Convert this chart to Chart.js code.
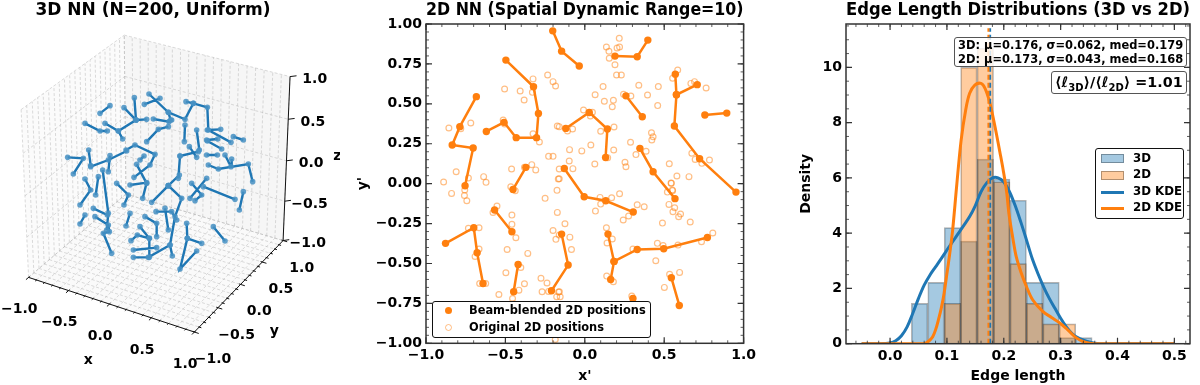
<!DOCTYPE html>
<html>
<head>
<meta charset="utf-8">
<script src="https://cdn.jsdelivr.net/npm/chart.js@4"></script>
<style>
body { margin: 0; background: #fff; font-family: "DejaVu Sans", sans-serif; font-weight: bold; color: #000; }
#page { position: relative; width: 1200px; height: 385px; overflow: hidden; }
canvas { position: absolute; top: 0; }
.box { position: absolute; box-sizing: border-box; background: rgba(255,255,255,.8); border: 1px solid #555; border-radius: 3px; white-space: nowrap; }
.legend { background: rgba(255,255,255,.95); border: 1px solid #111; }
.row { position: absolute; transform: translateY(-50%); line-height: 1; }
.sw { position: absolute; box-sizing: border-box; }
sub { font-size: 10px; line-height: 0; }
</style>
</head>
<body>
<div id="page">
  <canvas id="c3d" width="340" height="385" style="left:0"></canvas>
  <canvas id="c2d" width="405" height="385" style="left:355px"></canvas>
  <canvas id="chist" width="402" height="385" style="left:798px"></canvas>

  <div class="box legend" style="left:432px;top:301px;width:219px;height:37px;font-size:11.4px">
    <div class="sw" style="left:12px;top:5px;width:7px;height:7px;border-radius:50%;background:#ff7f0e"></div>
    <div class="row" style="left:36px;top:9px">Beam-blended 2D positions</div>
    <div class="sw" style="left:12px;top:22px;width:7px;height:7px;border-radius:50%;border:1.2px solid rgba(255,127,14,.5)"></div>
    <div class="row" style="left:36px;top:26px">Original 2D positions</div>
  </div>

  <div class="box" style="left:954px;top:37px;width:233px;height:30px;font-size:11.45px;line-height:13.5px;padding:1px 0 0 3px">
    3D: μ=0.176, σ=0.062, med=0.179<br>2D: μ=0.173, σ=0.043, med=0.168
  </div>
  <div class="box" style="left:1051px;top:71px;width:136px;height:23px;font-size:14.3px;line-height:21px;padding-left:3px">
    ⟨ℓ<sub>3D</sub>⟩/⟨ℓ<sub>2D</sub>⟩ =1.01
  </div>
  <div class="box legend" style="left:1095px;top:148px;width:89px;height:71px;font-size:11.8px">
    <div class="sw" style="left:5px;top:5px;width:23px;height:9px;background:rgba(31,119,180,.4);border:1px solid rgba(0,0,0,.3)"></div>
    <div class="row" style="left:37px;top:10px">3D</div>
    <div class="sw" style="left:5px;top:22px;width:23px;height:9px;background:rgba(255,127,14,.4);border:1px solid rgba(0,0,0,.3)"></div>
    <div class="row" style="left:37px;top:26px">2D</div>
    <div class="sw" style="left:5px;top:42px;width:23px;height:3px;background:#1f77b4"></div>
    <div class="row" style="left:37px;top:43px">3D KDE</div>
    <div class="sw" style="left:5px;top:58px;width:23px;height:3px;background:#ff7f0e"></div>
    <div class="row" style="left:37px;top:59px">2D KDE</div>
  </div>
</div>

<script>
const BLUE = '#1f77b4';
const ORANGE = '#ff7f0e';
const FONT = '"DejaVu Sans", sans-serif';

// 3D panel: edges, in projected view units (3 units = 1 screen px)
const edges3d = [
  [[300,340],[330,317]],
  [[372,323],[408,360],[403,293]],
  [[408,360],[440,358]],
  [[408,360],[355,393],[315,370]],
  [[355,393],[368,417]],
  [[255,370],[300,393],[322,393]],
  [[447,282],[505,337],[555,358],[580,310],[558,305]],
  [[433,313],[480,295]],
  [[460,357],[507,365],[515,360]],
  [[505,337],[512,360]],
  [[440,425],[475,388],[505,380]],
  [[580,310],[622,322],[625,390],[693,427]],
  [[622,390],[662,388]],
  [[555,375],[553,425]],
  [[590,390],[598,450]],
  [[700,410],[730,420]],
  [[620,420],[653,417]],
  [[622,423],[665,447]],
  [[620,465],[652,465]],
  [[540,468],[595,455]],
  [[540,468],[535,535]],
  [[568,440],[590,472]],
  [[625,495],[655,507],[745,492],[758,545]],
  [[675,465],[693,500],[695,477]],
  [[203,472],[250,475],[220,522]],
  [[266,450],[272,497]],
  [[330,467],[325,515]],
  [[378,450],[405,435],[465,463],[450,495],[402,532]],
  [[410,493],[440,550]],
  [[432,468],[420,480]],
  [[380,453],[325,480],[272,500]],
  [[255,537],[272,570],[240,615]],
  [[295,530],[287,585]],
  [[308,510],[325,640],[320,690]],
  [[350,550],[385,585],[372,615]],
  [[390,555],[440,548],[428,595]],
  [[505,557],[455,607]],
  [[505,557],[538,525]],
  [[505,557],[545,595],[525,650],[510,735],[445,772],[400,772]],
  [[400,750],[470,743]],
  [[575,550],[605,585],[585,602]],
  [[620,535],[570,595]],
  [[610,560],[705,598]],
  [[730,575],[718,630]],
  [[255,645],[240,672]],
  [[280,625],[322,645]],
  [[285,650],[325,675],[328,695],[310,700],[335,760]],
  [[390,640],[378,678]],
  [[435,650],[470,670],[470,710]],
  [[468,635],[515,635],[530,660]],
  [[495,625],[505,690]],
  [[560,670],[562,715],[540,807],[590,753]],
  [[562,715],[605,730]],
  [[640,680],[675,723]],
  [[420,680],[448,715],[448,772]],
  [[393,722],[412,705],[448,715]],
  [[510,735],[517,768]]
];
const ticks3d = [-1, -0.5, 0, 0.5, 1];

// 2D panel
const edges2d = [
  [[-.683,.545],[-.787,.357],[-.835,.242],[-.703,.223],[-.754,-.013]],
  [[-.62,.327],[-.509,.384],[-.432,.288],[-.304,.288],[-.292,.44],[-.323,.607],[-.497,.774]],
  [[-.371,.102],[-.452,-.036]],
  [[-.568,-.165],[-.459,-.301]],
  [[-.877,-.374],[-.699,-.276],[-.678,-.433],[-.641,-.625]],
  [[-.42,-.506],[-.448,-.677]],
  [[-.202,.957],[-.146,.83],[-.035,.737]],
  [[.19,.799],[.33,.795],[.397,.899]],
  [[.259,.55],[.362,.419]],
  [[-.12,.346],[.028,.446],[.142,.342],[.131,.164]],
  [[.57,.686],[.577,.557],[.708,.62]],
  [[.577,.557],[.564,.361],[.723,.156],[.952,-.053]],
  [[.756,.43],[.894,.442]],
  [[.347,.221],[.43,.075],[.568,-.094]],
  [[-.129,.095],[-.004,-.082],[.132,-.107],[.305,-.178]],
  [[.146,-.316],[.184,-.487],[.163,-.6]],
  [[.184,-.487],[.33,-.412],[.497,-.408],[.772,-.337]],
  [[.545,-.589],[.595,-.763]],
  [[-.146,-.316],[-.105,-.51],[-.21,-.671]],
  [[.303,-.719]]
];
const original2d = [
  [-.856,.349],[-.781,.344],[-.718,.38],[-.81,.075],[-.733,.035],[-.889,.01],[-.637,.044],[-.622,.008],
  [-.756,-.04],[-.758,-.074],[-.743,-.107],[-.514,.399],[-.505,.374],[-.326,.313],[-.286,.261],[-.505,.593],
  [-.407,.58],[-.382,.524],[-.33,.572],[-.326,.656],[-.234,.681],[-.2,.639],[-.184,.612],[-.173,.361],
  [-.228,.171],[-.2,.171],[-.461,.092],[-.38,.102],[-.334,.119],[-.309,.086],[-.161,.092],[-.167,.029],
  [-.466,-.019],[-.438,-.044],
  [.217,.91],[.136,.856],[.203,.85],[.219,.856],[.152,.829],[.154,.785],[.19,.745],[.2,.681],[.23,.681],
  [.115,.608],[.065,.557],[.123,.516],[.18,.522],[.173,.482],[.244,.56],[.29,.549],[.34,.616],[.395,.555],
  [.463,.608],[.459,.489],[.585,.712],[.553,.66],[.668,.628],[.691,.639],[.764,.599],[-.008,.461],[.048,.447],
  [.035,.424],[-.161,.357],[-.109,.33],[-.077,.342],[.1,.328],[.184,.355],[.42,.319],[.43,.294],[.422,.273],
  [.288,.259],[.386,.203],[.322,.182],[.144,.163],[-.096,.213],[-.019,.205],[.038,.242],[.182,.211],[.674,.19],
  [.695,.152],[.737,.127],[.785,.148],[.532,.125],[.58,.048],[.656,.044],[.543,.004],[.551,-.04],[.253,.134],
  [.259,.106],[.063,.123],[-.098,.142],[-.075,.094],[-.161,.031],
  [.545,.002],[.52,-.053],[.553,-.044],[.096,-.086],[.169,-.088],[.219,-.063],[.1,-.128],[.067,-.172],[.33,-.132],
  [.374,-.145],[.53,-.13],[.566,-.151],[.555,-.176],[.603,-.19],[.591,-.207],[.242,-.228],[.276,-.203],[.489,-.247],
  [.664,-.24],[-.125,-.251],[.136,-.276],[-.094,-.335],[-.084,-.412],[.14,-.372],[.173,-.347],[.806,-.309],[.735,-.364],
  [.457,-.374],[.493,-.387],[.587,-.385],[.303,-.41],[.447,-.483],[.138,-.579],[.18,-.614],[.534,-.568],[.597,-.556],
  [.501,-.65],[.296,-.704],[-.155,-.708],[-.16,-.677],
  [-.839,-.061],[-.553,-.14],[-.578,-.18],[-.459,-.197],[-.459,-.255],[-.434,-.339],[-.733,-.28],[-.666,-.276],
  [-.666,-.41],[-.691,-.456],[-.662,-.625],[-.624,-.625],[-.489,-.412],[-.359,-.437],[-.403,-.525],[-.497,-.558],
  [-.38,-.627],[-.415,-.667],[-.541,-.694],[-.455,-.719],[-.451,-.754],[-.276,-.593],[-.238,-.622],[-.269,-.677],
  [-.228,-.675],[-.165,-.679],[-.177,-.708],[-.2,-.293],[-.182,-.349],[-.161,-.322],[-.173,-.18],[-.25,-.092],
  [-.175,-.042],[-.186,-.976]
];
const ticks2dX = [-1, -0.5, 0, 0.5, 1];
const ticks2dY = [-1, -0.75, -0.5, -0.25, 0, 0.25, 0.5, 0.75, 1];

// histogram panel
const binCenters = [.0519,.0808,.1097,.1386,.1675,.1964,.2253,.2542,.2831,.312,.3409];
const hist3d = [1.46,2.22,4.2,3.71,6.68,5.96,5.19,2.22,2.22,.22,.22];
const hist2d = [0,0,1.46,10,10.69,5.86,2.9,1.46,.72,.72,0];
const kde3dX = [-.05,-.02,0,.01,.02,.03,.04,.05,.06,.07,.08,.09,.1,.11,.12,.13,.14,.15,.16,.17,.18,.19,.2,.21,.22,.23,.24,.25,.26,.27,.28,.29,.3,.31,.32,.33,.34,.35,.36,.38,.5];
const kde3dY = [0,0,.03,.11,.29,.61,1.1,1.64,2.12,2.48,2.78,3.08,3.39,3.69,3.99,4.29,4.6,5,5.5,5.82,6,6,5.85,5.5,5,4.4,3.75,3.08,2.54,2.06,1.64,1.28,.92,.61,.37,.22,.13,.06,.02,0,0];
const kde2dX = [-.05,.06,.065,.07,.075,.08,.085,.09,.095,.1,.105,.11,.117,.125,.133,.14,.149,.16,.167,.175,.181,.187,.193,.199,.205,.209,.216,.222,.231,.24,.251,.269,.284,.298,.31,.319,.327,.339,.351,.37,.5];
const kde2dY = [0,0,.05,.13,.25,.5,.86,1.28,1.82,2.54,3.27,4.1,5.68,7.37,8.46,9.06,9.36,9.42,9.24,8.76,8.21,7.6,6.95,6.28,5.5,4.71,3.81,3.14,2.54,2.06,1.58,1.16,.95,.76,.55,.37,.22,.08,.02,0,0];
const mean3d = .176, mean2d = .173, meanTop = 11.42;
const histTicksX = [0, .1, .2, .3, .4, .5];
const histTicksY = [0, 2, 4, 6, 8, 10];

const label = (v, d) => v.toFixed(d).replace('-', '\u2212');
const range = (a, b, n) => { let o = []; for (let i = 0; i <= n; i++) o.push(a + (b - a) * i / n); return o; };
const GAP = { x: NaN, y: NaN };

// mplot3d style projection, azim -60, elev 30, dist 10
function proj(x, y, z) {
  let a = .55, r = (.866 * x + .5 * y) * a, u = (-.25 * x + .433 * y + .866 * z) * a, d = (.433 * x - .75 * y + .5 * z) * a;
  let f = 10 / (10 - d);
  return { x: 474 + 522 * r * f, y: 534 - 522 * u * f };
}
function seg(list, p, q) { list.push(proj(...p), proj(...q), GAP); }
function flat(polys) {
  let o = [];
  polys.forEach(l => { l.forEach(p => o.push({ x: p[0], y: p[1] })); o.push(GAP); });
  return o;
}

let grid3d = [], axes3d = [];
range(-1, 1, 20).forEach(v => {
  seg(grid3d, [v, -1, -1], [v, 1, -1]);
  seg(grid3d, [v, 1, -1], [v, 1, 1]);
  seg(grid3d, [-1, v, -1], [1, v, -1]);
  seg(grid3d, [-1, v, -1], [-1, v, 1]);
});
ticks3d.forEach(v => {
  seg(grid3d, [-1, -1, v], [-1, 1, v]);
  seg(grid3d, [-1, 1, v], [1, 1, v]);
});
seg(axes3d, [-1, -1, -1], [1, -1, -1]);
seg(axes3d, [1, -1, -1], [1, 1, -1]);
seg(axes3d, [1, 1, -1], [1, 1, 1]);
range(-1, 1, 20).forEach((v, i) => {
  let t = i % 5 == 0 ? .05 : .025;
  seg(axes3d, [v, -1 - t, -1], [v, -1 + t * .4, -1]);
  seg(axes3d, [1 + t, v, -1], [1 - t * .4, v, -1]);
});
ticks3d.forEach(v => seg(axes3d, [1, 1, v], [1.05, 1.05, v]));

const pane = (color, corners) => ({
  data: corners.map(c => proj(...c)), showLine: true, fill: 'shape', backgroundColor: color,
  borderWidth: 0, pointRadius: 0, clip: false
});

const text3d = {
  id: 'text3d',
  afterDatasetsDraw(chart) {
    let c = chart.ctx, sx = chart.scales.x, sy = chart.scales.y;
    let put = (s, x, y) => c.fillText(s, sx.getPixelForValue(x), sy.getPixelForValue(y));
    c.save();
    c.fillStyle = '#000';
    c.textAlign = 'center';
    c.textBaseline = 'middle';
    c.font = 'bold 14px ' + FONT;
    ticks3d.forEach(v => {
      let p = proj(v, -1, -1); put(label(v, 1), p.x - 28, p.y + 96);
      p = proj(1, v, -1); put(label(v, 1), p.x + 56, p.y + 82);
      p = proj(1, 1, v); put(label(v, 1), p.x + 74, p.y + 8);
    });
    put('x', 265, 1080);
    put('y', 823, 995);
    put('z', 1012, 468);
    c.restore();
  }
};

// inward major and minor ticks on all four sides, plus the frame
function frame(minorX, minorY) {
  return {
    id: 'frame',
    afterDatasetsDraw(chart) {
      let c = chart.ctx, a = chart.chartArea, sx = chart.scales.x, sy = chart.scales.y;
      c.save();
      c.strokeStyle = '#333';
      let tick = (len, w, xs, ys) => {
        c.lineWidth = w;
        c.beginPath();
        xs.forEach(v => {
          let p = sx.getPixelForValue(v);
          c.moveTo(p, a.bottom); c.lineTo(p, a.bottom - len);
          c.moveTo(p, a.top); c.lineTo(p, a.top + len);
        });
        ys.forEach(v => {
          let p = sy.getPixelForValue(v);
          c.moveTo(a.left, p); c.lineTo(a.left + len, p);
          c.moveTo(a.right, p); c.lineTo(a.right - len, p);
        });
        c.stroke();
      };
      tick(3, .8, minorX, minorY);
      tick(6, 1.2, sx.ticks.map(t => t.value), sy.ticks.map(t => t.value));
      c.lineWidth = 1.5;
      c.strokeRect(a.left, a.top, a.right - a.left, a.bottom - a.top);
      c.restore();
    }
  };
}

function axis(min, max, tickList, digits, title, size) {
  let o = {
    type: 'linear', min: min, max: max, offset: false,
    grid: { display: false, drawTicks: false, offset: false }, border: { display: false },
    afterBuildTicks: s => { s.ticks = tickList.map(v => ({ value: v })); },
    afterFit: s => { if (s.isHorizontal()) s.height = size; else s.width = size; },
    ticks: {
      autoSkip: false, maxRotation: 0, padding: 4, color: '#000',
      font: { family: FONT, size: 14, weight: 'bold' },
      callback: v => label(v, digits)
    },
    title: { display: true, text: title, color: '#000', padding: 0, font: { family: FONT, size: 14, weight: 'bold' } }
  };
  return o;
}
const titleOpts = s => ({
  display: true, text: s, color: '#000', fullSize: false,
  font: { family: FONT, size: 17, weight: 'bold' }, padding: { top: 0, bottom: 3.6 }
});
const base = {
  responsive: false, animation: false, events: [],
  layout: { autoPadding: false }
};

new Chart(document.getElementById('c3d'), {
  type: 'scatter',
  plugins: [text3d],
  data: {
    datasets: [
      { data: flat(edges3d), showLine: true, spanGaps: false, borderColor: BLUE, borderWidth: 2.4, pointRadius: 2.8, pointBorderWidth: 0, pointBackgroundColor: 'rgba(70,145,195,.85)', clip: false },
      { data: axes3d, showLine: true, spanGaps: false, borderColor: '#111', borderWidth: 1, pointRadius: 0, clip: false },
      { data: grid3d, showLine: true, spanGaps: false, borderColor: 'rgba(180,180,180,.6)', borderWidth: .8, borderDash: [3, 2], pointRadius: 0, clip: false },
      pane('rgba(246,246,246,.6)', [[-1,-1,-1],[1,-1,-1],[1,1,-1],[-1,1,-1]]),
      pane('rgba(242,242,242,.7)', [[-1,1,-1],[1,1,-1],[1,1,1],[-1,1,1]]),
      pane('rgba(248,248,248,.6)', [[-1,-1,-1],[-1,1,-1],[-1,1,1],[-1,-1,1]])
    ]
  },
  options: {
    ...base,
    layout: { autoPadding: false, padding: { right: 34 } },
    plugins: { legend: { display: false }, title: titleOpts('3D NN (N=200, Uniform)'), tooltip: { enabled: false } },
    scales: {
      x: { type: 'linear', display: false, min: 0, max: 918 },
      y: { type: 'linear', display: false, min: 72, max: 1155, reverse: true }
    }
  }
});

new Chart(document.getElementById('c2d'), {
  type: 'scatter',
  plugins: [frame(range(-1, 1, 20), range(-1, 1, 40))],
  data: {
    datasets: [
      { label: 'Beam-blended 2D positions', data: flat(edges2d), showLine: true, spanGaps: false, borderColor: ORANGE, borderWidth: 2.5, pointRadius: 3.7, pointBorderWidth: 0, pointBackgroundColor: ORANGE },
      { label: 'Original 2D positions', data: original2d.map(p => ({ x: p[0], y: p[1] })), pointRadius: 2.9, pointBorderWidth: 1.2, pointBackgroundColor: 'rgba(0,0,0,0)', pointBorderColor: 'rgba(255,127,14,.5)' }
    ]
  },
  options: {
    ...base,
    layout: { autoPadding: false, padding: { right: 14.7 } },
    plugins: { legend: { display: false }, title: titleOpts('2D NN (Spatial Dynamic Range=10)'), tooltip: { enabled: false } },
    scales: {
      x: axis(-1, 1, ticks2dX, 1, "x'", 41.7),
      y: axis(-1, 1, ticks2dY, 2, "y'", 71)
    }
  }
});

const pairs = (xs, ys) => xs.map((x, i) => ({ x: x, y: ys[i] }));
const vline = v => [{ x: v, y: 0 }, { x: v, y: meanTop }];
const lineDs = (data, color, order, dash) => ({
  type: 'line', data: data, borderColor: color, borderWidth: dash ? 2 : 3, borderDash: dash || [],
  pointRadius: 0, tension: dash ? 0 : .35, order: order, fill: false
});
const barDs = (ys, color, order) => ({
  type: 'bar', data: pairs(binCenters, ys), backgroundColor: color, borderColor: 'rgba(0,0,0,.3)',
  borderWidth: 1, order: order, grouped: false, barPercentage: 1, categoryPercentage: 1
});

new Chart(document.getElementById('chist'), {
  type: 'bar',
  plugins: [frame(range(-.06, .52, 29), range(0, 11.5, 23))],
  data: {
    datasets: [
      lineDs(vline(mean2d), ORANGE, 1, [5, 3]),
      lineDs(vline(mean3d), BLUE, 2, [5, 3]),
      lineDs(pairs(kde2dX, kde2dY), ORANGE, 3),
      lineDs(pairs(kde3dX, kde3dY), BLUE, 4),
      barDs(hist2d, 'rgba(255,127,14,.4)', 5),
      barDs(hist3d, 'rgba(31,119,180,.4)', 6)
    ]
  },
  options: {
    ...base,
    layout: { autoPadding: false, padding: { right: 10 } },
    plugins: { legend: { display: false }, title: titleOpts('Edge Length Distributions (3D vs 2D)'), tooltip: { enabled: false } },
    scales: {
      x: axis(-.0775, .5275, histTicksX, 1, 'Edge length', 41.3),
      y: axis(0, 11.57, histTicksY, 0, 'Density', 48)
    }
  }
});
</script>
</body>
</html>
